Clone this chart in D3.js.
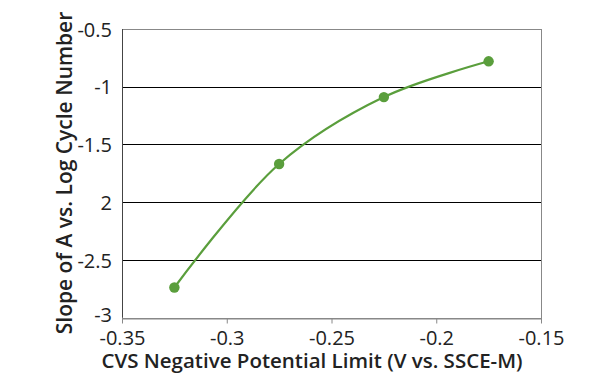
<!DOCTYPE html>
<html><head><meta charset="utf-8">
<script src="https://cdn.jsdelivr.net/npm/d3@7"></script>
<style>body{margin:0;background:#fff}svg{display:block}text{font-family:"Open Sans",sans-serif;fill:#222}</style>
</head><body>
<svg id="c" width="600" height="384"></svg>
<script>
const xValues = [-0.325, -0.275, -0.225, -0.175];
const yValues = [-2.74, -1.67, -1.09, -0.78];
const xTicks = [-0.35, -0.3, -0.25, -0.2, -0.15];
const xTickLabels = ["-0.35", "-0.3", "-0.25", "-0.2", "-0.15"];
const yTicks = [-3, -2.5, -2, -1.5, -1, -0.5];
const yTickLabels = ["-3", "-2.5", "2", "-1.5", "-1", "-0.5"];
const xTitle = "CVS Negative Potential Limit (V vs. SSCE-M)";
const yTitle = "Slope of A vs. Log Cycle Number";

const svg = d3.select("#c");
const m = {l:122, r:541, t:29, b:317.5};
const x = d3.scaleLinear().domain([-0.35,-0.15]).range([m.l, m.r]);
const y = d3.scaleLinear().domain([-3,-0.5]).range([m.b, m.t]);

// gridlines
svg.append("g").selectAll("line").data(yTicks.filter(v=>v>-3 && v<-0.5)).join("line")
  .attr("x1", m.l).attr("x2", m.r).attr("y1", d=>Math.round(y(d))+0.5).attr("y2", d=>Math.round(y(d))+0.5)
  .attr("stroke", "#000").attr("stroke-width", 1);

// frame
svg.append("rect").attr("x", m.l+0.5).attr("y", Math.round(m.t)+0.5)
  .attr("width", m.r-m.l).attr("height", Math.round(m.b)-Math.round(m.t))
  .attr("fill","none").attr("stroke","#888").attr("stroke-width",1);
svg.append("line").attr("x1", m.l+0.5).attr("x2", m.l+0.5).attr("y1", m.t).attr("y2", m.b)
  .attr("stroke","#444");

// x axis
const xAxis = d3.axisBottom(x).tickValues(xTicks).tickFormat((d,i)=>xTickLabels[i]).tickSize(5).tickSizeOuter(0);
const gx = svg.append("g").attr("transform", `translate(0,${Math.round(m.b)+0.5})`).call(xAxis);
gx.select(".domain").attr("stroke","#888");
gx.selectAll(".tick line").attr("stroke","#888");
gx.selectAll(".tick text").attr("font-size", 20).attr("dy", 0).attr("y", 26).attr("fill","#222").style("font-family","'Open Sans',sans-serif");

// y axis labels
const yAxis = d3.axisLeft(y).tickValues(yTicks).tickFormat((d,i)=>yTickLabels[i]).tickSize(0).tickPadding(10);
const gy = svg.append("g").attr("transform", `translate(${m.l},0)`).call(yAxis);
gy.select(".domain").remove();
gy.selectAll(".tick text").attr("font-size", 20).attr("fill","#222").attr("dy","0.36em").style("font-family","'Open Sans',sans-serif");
gy.selectAll(".tick").filter(d=>d===-3).select("text").attr("dy","0.2em");

// curve
const pts = xValues.map((v,i)=>[x(v), y(yValues[i])]);
svg.append("path").attr("d", d3.line().curve(d3.curveCatmullRom.alpha(0.5))(pts))
  .attr("fill","none").attr("stroke","#5a9e3c").attr("stroke-width",2.2);
svg.append("g").selectAll("circle").data(pts).join("circle")
  .attr("cx", d=>d[0]).attr("cy", d=>d[1]).attr("r", 5.2).attr("fill","#5a9e3c");

// titles
svg.append("text").attr("x", 312).attr("y", 368).attr("text-anchor","middle")
  .attr("font-size", 20.5).attr("font-weight", 600).text(xTitle);
svg.append("text").attr("transform", "translate(72,173) rotate(-90)").attr("text-anchor","middle")
  .attr("font-size", 21).attr("font-weight", 600).text(yTitle);
</script>
</body></html>
